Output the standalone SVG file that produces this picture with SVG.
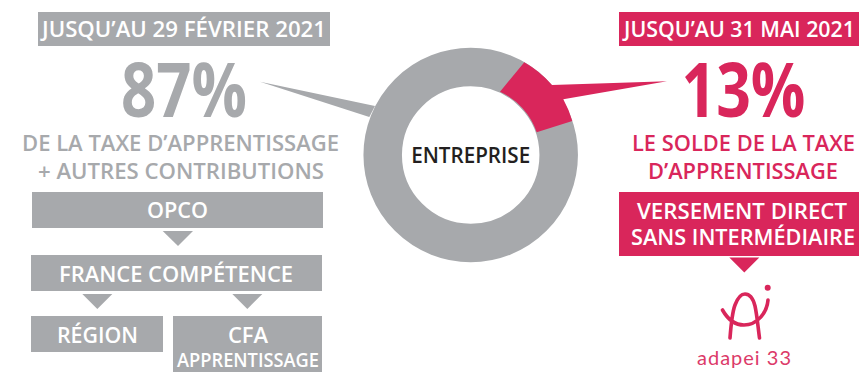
<svg xmlns="http://www.w3.org/2000/svg" width="865" height="372" viewBox="0 0 865 372">
<style>
text{font-family:"Open Sans","Liberation Sans",sans-serif;font-weight:600;text-anchor:middle}
.g{fill:#a7a9ac}.r{fill:#d9265b}
.w{fill:#fff}
.s{font-size:22px}
.big{font-size:76px;font-weight:700}
</style>
<rect width="865" height="372" fill="#fff"/>
<g id="donut">
<circle cx="470.7" cy="155" r="88" fill="none" stroke="#a7a9ac" stroke-width="38.5"/>
<polygon class="g" points="260,81.7 375,106 369.3,117"/>
<path class="r" d="M524.3 62.3A107.3 107.3 0 0 1 552 85L667 81.3 563.3 99.3A107.3 107.3 0 0 1 572.3 121L536.7 132.3A69 69 0 0 0 500 91.7Z"/>
<text x="470.7" y="163" style="font-size:22px;fill:#231f20" textLength="119" lengthAdjust="spacingAndGlyphs">ENTREPRISE</text>
</g>
<g id="left-title">
<rect class="g" x="38" y="12" width="292" height="34"/>
<text class="w s" x="184" y="37" textLength="284" lengthAdjust="spacingAndGlyphs">JUSQU’AU 29 FÉVRIER 2021</text>
<text class="g big" x="184" y="117" textLength="126" lengthAdjust="spacingAndGlyphs">87%</text>
<text class="g s" x="180.5" y="151" textLength="317" lengthAdjust="spacingAndGlyphs">DE LA TAXE D’APPRENTISSAGE</text>
<text class="g s" x="181" y="179" textLength="286" lengthAdjust="spacingAndGlyphs">+ AUTRES CONTRIBUTIONS</text>
</g>
<g id="right-title">
<rect class="r" x="619" y="12" width="240" height="34"/>
<text class="w s" x="739.5" y="37" textLength="231" lengthAdjust="spacingAndGlyphs">JUSQU’AU 31 MAI 2021</text>
<text class="r big" x="743.5" y="117" textLength="124" lengthAdjust="spacingAndGlyphs">13%</text>
<text class="r s" x="743.5" y="151" textLength="223" lengthAdjust="spacingAndGlyphs">LE SOLDE DE LA TAXE</text>
<text class="r s" x="743" y="179" textLength="190" lengthAdjust="spacingAndGlyphs">D’APPRENTISSAGE</text>
</g>
<g id="opco">
<rect class="g" x="32" y="192" width="291" height="36"/>
<text class="w s" x="177.5" y="218" textLength="61" lengthAdjust="spacingAndGlyphs">OPCO</text>
</g>
<g id="france-competence">
<rect class="g" x="31" y="255" width="291" height="36"/>
<text class="w s" x="176" y="282" textLength="234" lengthAdjust="spacingAndGlyphs">FRANCE COMPÉTENCE</text>
</g>
<g id="region">
<rect class="g" x="31" y="316" width="132" height="36"/>
<text class="w s" x="97.5" y="342.5" textLength="81" lengthAdjust="spacingAndGlyphs">RÉGION</text>
</g>
<g id="cfa">
<rect class="g" x="173" y="316" width="149" height="56"/>
<text class="w s" x="248" y="342.5">CFA</text>
<text class="w" x="248" y="366.5" style="font-size:20px" textLength="142" lengthAdjust="spacingAndGlyphs">APPRENTISSAGE</text>
</g>
<g id="versement">
<rect class="r" x="619" y="192" width="240" height="64"/>
<text class="w s" x="742" y="219" textLength="210" lengthAdjust="spacingAndGlyphs">VERSEMENT DIRECT</text>
<text class="w s" x="743" y="245" textLength="224" lengthAdjust="spacingAndGlyphs">SANS INTERMÉDIAIRE</text>
</g>
<g id="adapei">
<circle class="r" cx="767.7" cy="287.7" r="3"/>
<path d="M730 338C731 325 732 313 735 305 738 297 741 294 745 294 750 294 753 298 755 306 757 315 758 327 759.5 338M722.5 310C727 318 734 325 744 325 757 325 767 313 768 300" fill="none" stroke="#d9265b" stroke-width="3.6" stroke-linecap="round"/>
<text x="744" y="365" style="font-family:Lato,sans-serif;font-weight:400;font-size:20px;fill:#dc3a69" textLength="94" lengthAdjust="spacing">adapei 33</text>
</g>
<g id="connectors">
<polygon class="g" points="162.7,231 193,231 178,246"/>
<polygon class="g" points="82.3,294 112.3,294 97.3,309"/>
<polygon class="g" points="232.3,294 262.3,294 247.3,309"/>
<polygon class="r" points="729.3,257.5 759.3,257.5 744.3,272.5"/>
</g>
</svg>
